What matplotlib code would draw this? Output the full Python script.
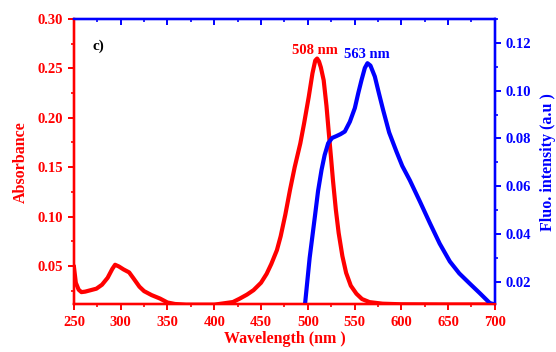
import matplotlib
matplotlib.use("Agg")
import matplotlib.pyplot as plt
from matplotlib.ticker import MultipleLocator, FormatStrFormatter

# Absorbance (red, left axis)
abs_wl = [250, 252, 255, 258, 262, 268, 274, 280, 286, 291, 294, 298, 303, 309, 314,
          320, 325, 333, 342, 350, 358, 370, 400, 420, 427, 435, 442, 450, 456, 461,
          467, 471, 476, 481, 486, 492, 496, 501, 505, 508, 510, 512, 514, 517, 520,
          522, 525, 527, 530, 533, 537, 541, 546, 552, 558, 566, 580, 600, 650, 700]
abs_val = [0.049, 0.033, 0.026, 0.0235, 0.024, 0.0255, 0.027, 0.031, 0.038, 0.047, 0.0512,
           0.0495, 0.0465, 0.0435, 0.037, 0.029, 0.0245, 0.0205, 0.017, 0.013, 0.0115,
           0.0108, 0.0108, 0.0135, 0.0168, 0.021, 0.0255, 0.033, 0.042, 0.052, 0.066,
           0.080, 0.102, 0.127, 0.150, 0.174, 0.194, 0.221, 0.245, 0.258, 0.260, 0.257,
           0.251, 0.238, 0.212, 0.190, 0.158, 0.136, 0.107, 0.0835, 0.060, 0.043, 0.030,
           0.0219, 0.0165, 0.0134, 0.0118, 0.0112, 0.011, 0.011]

# Fluorescence (blue, right axis)
fl_wl = [497, 502, 507.6, 511, 514.7, 518, 521.8, 526, 530.7, 535, 539.6, 545, 550.3,
         554, 557.5, 561, 563.8, 567, 571.7, 576, 580.5, 587, 594.8, 601, 609.1, 620,
         630.5, 641, 651.9, 662, 673.3, 684, 694.6, 700]
fl_val = [0.0104, 0.030, 0.0473, 0.058, 0.0668, 0.073, 0.078, 0.0802, 0.081, 0.0818,
          0.0829, 0.087, 0.0927, 0.099, 0.1045, 0.1095, 0.1115, 0.1105, 0.1059, 0.099,
          0.0920, 0.0825, 0.0745, 0.0685, 0.0625, 0.0535, 0.0446, 0.036, 0.0285, 0.0235,
          0.0192, 0.0152, 0.0111, 0.0105]

peak_labels = ["508 nm", "563 nm"]

plt.rcParams['font.family'] = ['Liberation Serif', 'DejaVu Serif']
plt.rcParams['font.weight'] = 'bold'

fig = plt.figure(figsize=(5.56, 3.52), dpi=100)
ax = fig.add_axes([0.133, 0.135, 0.757, 0.811])
ax2 = ax.twinx()
ax3 = ax.twiny()

RED = '#ff0000'
BLUE = '#0000ff'

ax.plot(abs_wl, abs_val, color=RED, lw=3.0, solid_joinstyle='round', zorder=3)
ax2.plot(fl_wl, fl_val, color=BLUE, lw=3.0, solid_joinstyle='round', zorder=3)

ax.set_xlim(250, 700)
ax.set_ylim(0.011, 0.30)
ax2.set_ylim(0.0105, 0.130)
ax3.set_xlim(250, 700)

# spines
for a in (ax, ax2, ax3):
    a.spines['left'].set_color(RED)
    a.spines['bottom'].set_color(RED)
    a.spines['right'].set_color(BLUE)
    a.spines['top'].set_color(BLUE)
    for s in a.spines.values():
        s.set_linewidth(1.6)

ax.xaxis.set_major_locator(MultipleLocator(50))
ax.xaxis.set_minor_locator(MultipleLocator(25))
ax.yaxis.set_major_locator(MultipleLocator(0.05))
ax.yaxis.set_minor_locator(MultipleLocator(0.025))
ax.yaxis.set_major_formatter(FormatStrFormatter('%.2f'))
ax.tick_params(axis='both', which='major', direction='out', length=4.5, width=1.4,
               colors=RED, labelsize=10.5, top=False, right=False)
ax.tick_params(axis='both', which='minor', direction='out', length=2.5, width=1.2,
               colors=RED, top=False, right=False)

ax2.yaxis.set_major_locator(MultipleLocator(0.02))
ax2.yaxis.set_minor_locator(MultipleLocator(0.01))
ax2.yaxis.set_major_formatter(FormatStrFormatter('%.2f'))
ax2.tick_params(axis='y', which='major', direction='out', length=4.5, width=1.4,
                colors=BLUE, labelsize=10.5)
ax2.tick_params(axis='y', which='minor', direction='out', length=2.5, width=1.2,
                colors=BLUE)

ax3.xaxis.set_major_locator(MultipleLocator(50))
ax3.xaxis.set_minor_locator(MultipleLocator(25))
ax3.tick_params(axis='x', which='major', direction='in', length=4.5, width=1.4,
                colors=BLUE, labeltop=False)
ax3.tick_params(axis='x', which='minor', direction='in', length=2.5, width=1.2,
                colors=BLUE)

for lab in ax.get_xticklabels() + ax.get_yticklabels() + ax2.get_yticklabels():
    lab.set_fontweight('bold')

ax.set_xlabel('Wavelength (nm )', color=RED, fontsize=11.5, fontweight='bold', labelpad=2)
ax.set_ylabel('Absorbance', color=RED, fontsize=11.5, fontweight='bold', labelpad=6)
ax2.set_ylabel('Fluo. intensity (a.u )', color=BLUE, fontsize=11.5, fontweight='bold',
               labelpad=6)

ax.text(0.043, 0.905, 'c)', transform=ax.transAxes, fontsize=11, fontweight='bold',
        color='black', ha='left', va='center')
ax.text(508, 0.262, peak_labels[0], color=RED, fontsize=10.5, fontweight='bold',
        ha='center', va='bottom')
ax2.text(563, 0.1125, peak_labels[1], color=BLUE, fontsize=10.5, fontweight='bold',
         ha='center', va='bottom')

fig.savefig('out.png', dpi=100)
